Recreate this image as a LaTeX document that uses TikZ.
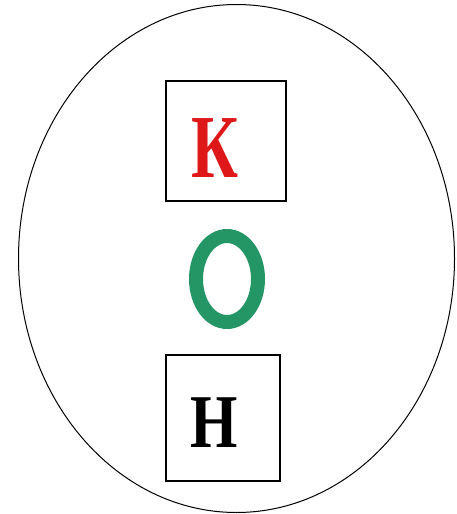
\documentclass[tikz,border=0pt]{standalone}
\usepackage{fontspec}
\usepackage{graphicx}
\setmainfont{Liberation Serif}
\usetikzlibrary{shapes.geometric}
\definecolor{kred}{RGB}{222,24,24}
\definecolor{ogreen}{RGB}{36,150,102}
\begin{document}
\begin{tikzpicture}[x=1pt, y=-1pt,
	b/.style = {rectangle, draw=black, line width=1.8pt, inner sep=0pt},
	l/.style = {inner sep=0pt, font=\bfseries},
	o/.style = {ellipse, draw=ogreen, line width=14pt, inner sep=0pt, minimum width=62, minimum height=86}
	]
	\useasboundingbox (0,0) rectangle (456,514);
	
	%Nodes
	\node[ellipse, draw, line width=1pt, inner sep=0pt, minimum width=436, minimum height=508] (cell) at (236.5,258.5) {};
	\node[b, minimum width=120, minimum height=120]	(kbox)	at	(226,141)	{};
	\node[b, minimum width=114, minimum height=126]	(hbox)	at	(223,418)	{};
	\node[l, text=kred, anchor=base]	(k)	at	(215,177)	{\fontsize{90}{90}\selectfont\scalebox{0.72}[1]{К}};
	\node[l, anchor=base]			(h)	at	(214,447)	{\fontsize{76}{76}\selectfont\scalebox{0.8}[1]{Н}};
	\node[o]	(ring)	at	(227,279)	{};
	
\end{tikzpicture}
\end{document}
